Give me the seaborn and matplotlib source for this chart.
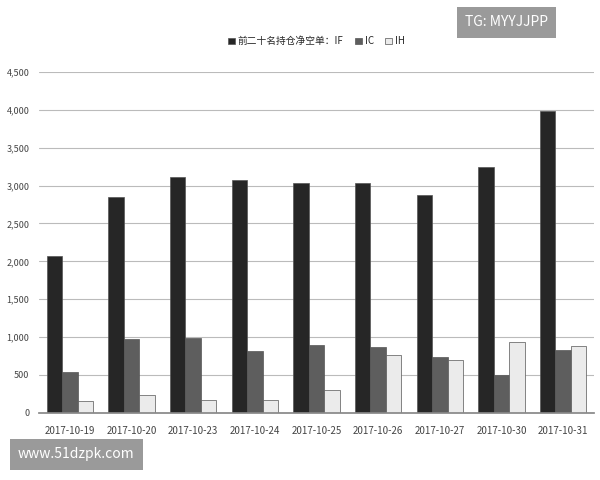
import matplotlib
matplotlib.use("Agg")
import matplotlib.pyplot as plt
import seaborn as sns
import pandas as pd

dates = ["2017-10-19","2017-10-20","2017-10-23","2017-10-24","2017-10-25","2017-10-26","2017-10-27","2017-10-30","2017-10-31"]
IF = [2070, 2850, 3110, 3070, 3040, 3030, 2870, 3240, 3980]
IC = [540, 980, 990, 820, 900, 870, 740, 500, 830]
IH = [150, 230, 170, 170, 300, 760, 700, 930, 880]
series = ["前二十名持仓净空单：IF", "IC", "IH"]

df = pd.DataFrame({"date": dates*3, "val": IF+IC+IH,
                   "s": [series[0]]*9+[series[1]]*9+[series[2]]*9})

sns.set_theme(style="white")
plt.rcParams['font.family'] = ['Noto Sans CJK SC', 'DejaVu Sans']
fig = plt.figure(figsize=(6, 4.8), dpi=100)
ax = fig.add_axes([0.065, 0.14, 0.925, 0.71])
sns.barplot(data=df, x="date", y="val", hue="s", palette=["#262626", "#5e5e5e", "#ebebeb"],
            edgecolor="#555555", linewidth=0.5, width=0.75, ax=ax)
ax.set_ylim(0, 4500)
ax.set_yticks(range(0, 4501, 500))
ax.set_yticklabels([f"{v:,}" for v in range(0, 4501, 500)], fontsize=6.5, color="#444444")
ax.tick_params(axis='y', pad=1)
ax.tick_params(axis='x', labelsize=7, colors="#444444")
ax.yaxis.grid(True, color="#bbbbbb", linewidth=0.8)
ax.set_axisbelow(True)
for s in ["top", "right", "left"]:
    ax.spines[s].set_visible(False)
ax.spines["bottom"].set_color("#888888")
ax.set_xlabel(""); ax.set_ylabel("")
ax.legend(loc="upper center", bbox_to_anchor=(0.5, 1.13), ncol=3, frameon=False,
          fontsize=7, handlelength=0.7, handleheight=0.7, columnspacing=1.2, handletextpad=0.3)
fig.text(0.775, 0.945, "TG: MYYJJPP", fontsize=10, color="white",
         bbox=dict(facecolor="#9a9a9a", edgecolor="none", pad=6))
fig.text(0.03, 0.045, "www.51dzpk.com", fontsize=10, color="white",
         bbox=dict(facecolor="#9a9a9a", edgecolor="none", pad=6))
fig.savefig("out.png", dpi=100)
